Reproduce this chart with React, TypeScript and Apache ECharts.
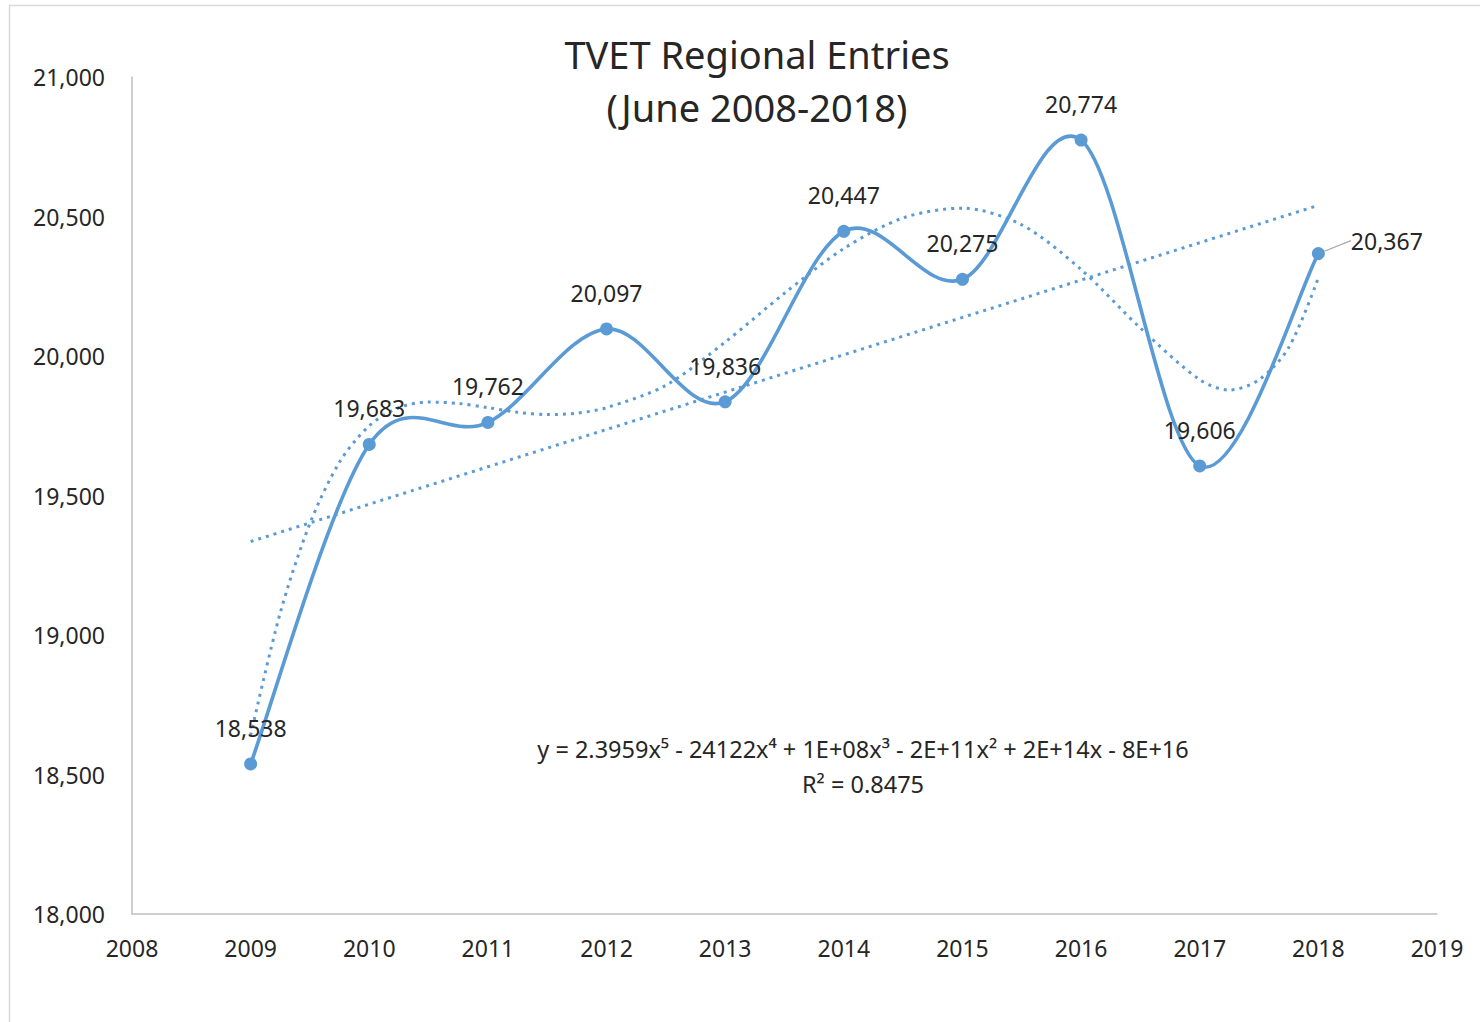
import React, { useEffect, useRef } from "react";
import * as echarts from "echarts";

const years = [2009, 2010, 2011, 2012, 2013, 2014, 2015, 2016, 2017, 2018];
const entries = [18538, 19683, 19762, 20097, 19836, 20447, 20275, 20774, 19606, 20367];

// Linear trendline at its two ends
const linearX = [2009, 2018];
const linearY = [19335, 20540];

// Polynomial (order 5) trendline
const polyX = [2009, 2009.25, 2009.5, 2009.75, 2010, 2010.25, 2010.5, 2010.75, 2011, 2011.25, 2011.5, 2011.75, 2012, 2012.5, 2013, 2013.5, 2014, 2014.5, 2015, 2015.5, 2016, 2016.5, 2017, 2017.25, 2017.5, 2017.75, 2018];
const polyY = [18640, 19080, 19400, 19620, 19750, 19815, 19835, 19830, 19815, 19798, 19790, 19795, 19815, 19895, 20050, 20225, 20385, 20495, 20530, 20470, 20310, 20100, 19915, 19878, 19915, 20030, 20280];

const titleLines = ["TVET Regional Entries", "(June 2008-2018)"];
const equationText = "y = 2.3959x\u2075 - 24122x\u2074 + 1E+08x\u00B3 - 2E+11x\u00B2 + 2E+14x - 8E+16";
const r2Text = "R\u00B2 = 0.8475";

const xMin = 2008;
const xMax = 2019;
const yMin = 18000;
const yMax = 21000;
const yStep = 500;

const BLUE = "#5B9BD5";
const TEXT = "#262626";
const FONT = "'Noto Sans', 'Open Sans', sans-serif";

export default function App() {
  const ref = useRef<HTMLDivElement>(null);

  useEffect(() => {
    if (!ref.current) return;
    const chart = echarts.init(ref.current, undefined, { renderer: "svg" });
    const n = years.length;

    const mainData = years.map((y, i) => {
      const item: any = { value: [y, entries[i]] };
      if (i === n - 1) {
        item.label = { position: "right", distance: 26 };
        item.labelLine = { show: true, lineStyle: { color: "#a6a6a6", width: 1.2 } };
      }
      return item;
    });

    // Smoothed (Catmull-Rom style) curve through the data points, drawn via the axes' scales
    const renderSmooth = (params: any, api: any) => {
      const i = params.dataIndex;
      if (i >= n - 1) return { type: "group", children: [] };
      const P = (k: number) => {
        const kk = Math.max(0, Math.min(n - 1, k));
        return api.coord([years[kk], entries[kk]]);
      };
      const p0 = P(i - 1);
      const p1 = P(i);
      const p2 = P(i + 1);
      const p3 = P(i + 2);
      return {
        type: "bezierCurve",
        shape: {
          x1: p1[0],
          y1: p1[1],
          x2: p2[0],
          y2: p2[1],
          cpx1: p1[0] + (p2[0] - p0[0]) / 6,
          cpy1: p1[1] + (p2[1] - p0[1]) / 6,
          cpx2: p2[0] - (p3[0] - p1[0]) / 6,
          cpy2: p2[1] - (p3[1] - p1[1]) / 6,
        },
        style: { stroke: BLUE, lineWidth: 3.6, fill: "none", lineCap: "round" },
      };
    };

    const option: any = {
      animation: false,
      backgroundColor: "#ffffff",
      textStyle: { fontFamily: FONT },
      title: {
        text: titleLines.join("\n"),
        left: 752,
        textAlign: "center",
        top: 22,
        textStyle: {
          fontFamily: FONT,
          fontSize: 38,
          fontWeight: "normal",
          color: TEXT,
          lineHeight: 53,
        },
      },
      grid: { left: 132, right: 43, top: 77, bottom: 108 },
      xAxis: {
        type: "value",
        min: xMin,
        max: xMax,
        interval: 1,
        axisLine: { show: true, lineStyle: { color: "#bfbfbf", width: 1.5 } },
        axisTick: { show: false },
        splitLine: { show: false },
        axisLabel: {
          margin: 22,
          fontSize: 23,
          color: TEXT,
          fontFamily: FONT,
          formatter: (v: number) => String(v),
        },
      },
      yAxis: {
        type: "value",
        min: yMin,
        max: yMax,
        interval: yStep,
        axisLine: { show: true, lineStyle: { color: "#bfbfbf", width: 1.5 } },
        axisTick: { show: false },
        splitLine: { show: false },
        axisLabel: {
          margin: 27,
          fontSize: 23,
          color: TEXT,
          fontFamily: FONT,
          formatter: (v: number) => v.toLocaleString("en-US"),
        },
      },
      graphic: [
        {
          type: "rect",
          silent: true,
          shape: { x: 9.5, y: 5.5, width: 1500, height: 1040 },
          style: { fill: "none", stroke: "#d9d9d9", lineWidth: 1.5 },
          z: -10,
        },
        {
          type: "text",
          x: 863,
          y: 749,
          style: {
            text: equationText,
            align: "center",
            verticalAlign: "middle",
            fontSize: 23.5,
            fontFamily: FONT,
            fill: TEXT,
          },
        },
        {
          type: "text",
          x: 863,
          y: 784,
          style: {
            text: r2Text,
            align: "center",
            verticalAlign: "middle",
            fontSize: 23.5,
            fontFamily: FONT,
            fill: TEXT,
          },
        },
      ],
      series: [
        {
          name: "Linear trend",
          type: "line",
          data: linearX.map((x, i) => [x, linearY[i]]),
          showSymbol: false,
          symbol: "none",
          lineStyle: { color: BLUE, width: 3, type: [3, 5] },
          z: 2,
        },
        {
          name: "Poly trend",
          type: "line",
          data: polyX.map((x, i) => [x, polyY[i]]),
          showSymbol: false,
          symbol: "none",
          smooth: 0.3,
          lineStyle: { color: BLUE, width: 3, type: [3, 5] },
          z: 2,
        },
        {
          name: "Entries curve",
          type: "custom",
          data: years.map((y, i) => [y, entries[i]]),
          encode: { x: 0, y: 1 },
          renderItem: renderSmooth,
          clip: false,
          silent: true,
          z: 3,
        },
        {
          name: "Entries",
          type: "line",
          data: mainData,
          symbol: "circle",
          symbolSize: 13,
          itemStyle: { color: BLUE },
          lineStyle: { opacity: 0, width: 0 },
          label: {
            show: true,
            position: "top",
            distance: 18,
            fontSize: 23,
            color: TEXT,
            fontFamily: FONT,
            formatter: (p: any) => Number(p.value[1]).toLocaleString("en-US"),
          },
          labelLayout: (p: any) => (p.dataIndex === n - 1 ? { dy: -13 } : {}),
          z: 4,
        },
      ],
    };

    chart.setOption(option);
    return () => chart.dispose();
  }, []);

  return (
    <div
      ref={ref}
      style={{ position: "absolute", left: 0, top: 0, width: 1480, height: 1022 }}
    />
  );
}
